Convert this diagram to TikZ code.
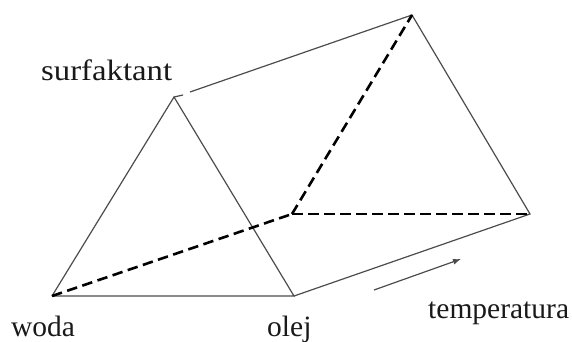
\documentclass[tikz,border=0pt]{standalone}
\usepackage{fontspec}
\setmainfont{Liberation Serif}
\newfontfamily\widefont[FakeStretch=1.11]{Liberation Serif}
\usetikzlibrary{arrows.meta}
\tikzset{
  edge/.style={draw=black!70,line width=1.2pt},
  hidden/.style={draw=black,line width=2.6pt,dash pattern=on 10.5pt off 5.5pt},
  lab/.style={inner sep=0pt,font=\fontsize{29.5}{32}\selectfont,text=black!90,anchor=base west},
  trend/.style={draw=black!70,line width=1.2pt,-{Latex[length=8pt,width=6pt]}}
}
\begin{document}
\begin{tikzpicture}[x=1pt,y=-1pt]
\useasboundingbox (0,0) rectangle (572,342);
\coordinate (woda) at (52,296);
\coordinate (olej) at (294,296);
\coordinate (top) at (174,97);
\coordinate (topend) at (183,95);
\coordinate (gap) at (190,92);
\coordinate (back) at (292,214);
\coordinate (apex) at (412,15);
\coordinate (right) at (530,214);
\coordinate (tstart) at (374,290);
\coordinate (tend) at (461,259);
\draw[edge] (woda) -- (olej) -- (top) -- (woda);
\draw[edge] (top) -- (topend);
\draw[edge] (gap) -- (apex) -- (right) -- (olej);
\draw[hidden] (woda) -- (back);
\draw[hidden] (back) -- (apex);
\draw[hidden] (back) -- (right);
\draw[trend] (tstart) -- (tend);
\node[lab] (l1) at (41,81) {\widefont surfaktant};
\node[lab] (l2) at (11,336) {woda};
\node[lab] (l3) at (267,336) {olej};
\node[lab] (l4) at (428,318) {temperatura};
\end{tikzpicture}
\end{document}
